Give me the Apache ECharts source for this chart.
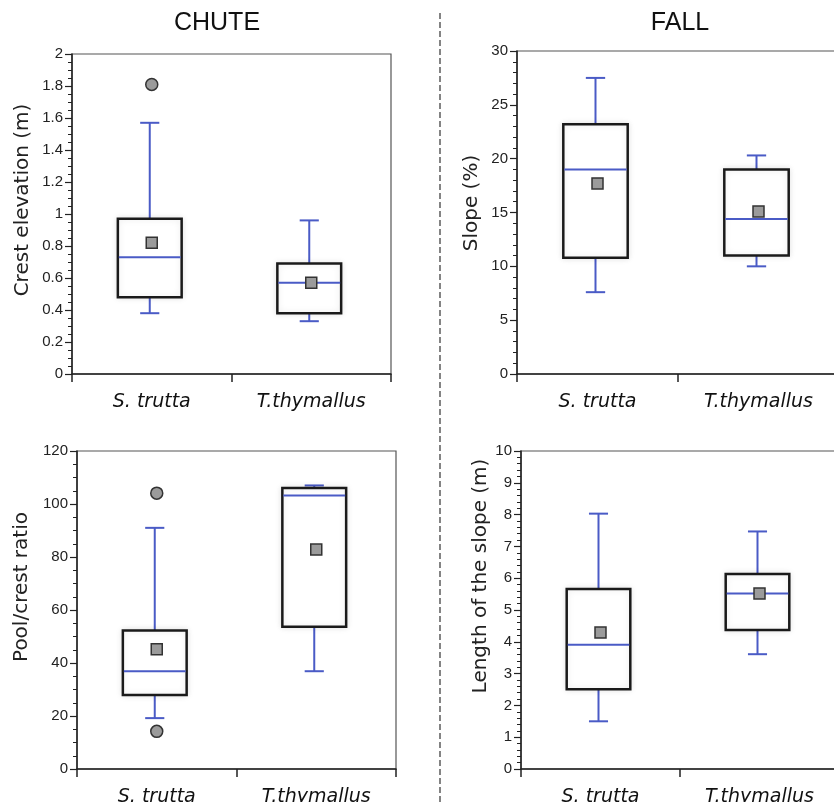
<!DOCTYPE html>
<html>
<head>
<meta charset="utf-8">
<script src="https://cdn.jsdelivr.net/npm/echarts@6/dist/echarts.min.js"></script>
<style>
html,body{margin:0;padding:0;background:#fff;}
#chart{width:834px;height:802px;}
</style>
</head>
<body>
<div id="chart"></div>
<script>
// ---- Data ----
var categories = ['S. trutta', 'T.thymallus'];

// [low whisker, Q1, median, Q3, high whisker]
var crestBox = [[0.38, 0.48, 0.73, 0.97, 1.57], [0.33, 0.38, 0.57, 0.69, 0.96]];
var crestMean = [0.82, 0.57];
var crestOutliers = [[0, 1.81]];

var slopeBox = [[7.6, 10.8, 19.0, 23.2, 27.5], [10.0, 11.0, 14.4, 19.0, 20.3]];
var slopeMean = [17.7, 15.1];
var slopeOutliers = [];

var poolBox = [[19.2, 27.9, 36.9, 52.3, 91.0], [36.9, 53.7, 103.2, 106.0, 107.0]];
var poolMean = [45.2, 82.8];
var poolOutliers = [[0, 104.1], [0, 14.2]];

var lengthBox = [[1.5, 2.51, 3.91, 5.66, 8.03], [3.61, 4.37, 5.52, 6.13, 7.47]];
var lengthMean = [4.29, 5.52];
var lengthOutliers = [];

var panelTitles = ['CHUTE', 'FALL'];
var yNames = ['Crest elevation (m)', 'Slope (%)', 'Pool/crest ratio', 'Length of the slope (m)'];
var yRanges = [[0, 2, 0.2, 4], [0, 30, 5, 5], [0, 120, 20, 4], [0, 10, 1, 5]];

// ---- Styling / layout ----
var BLUE = '#4a5bc6';
var grids = [
  {left: 72, top: 54, width: 319, height: 320},
  {left: 517, top: 51, width: 322, height: 323},
  {left: 77, top: 451, width: 319, height: 318},
  {left: 521, top: 451, width: 318, height: 318}
];
var namePos = [[23, 200], [472, 203], [22, 587], [481, 576]];

function renderBox(params, api) {
  var xi = api.value(0);
  var low = api.value(1), q1 = api.value(2), med = api.value(3), q3 = api.value(4), high = api.value(5);
  var cw = api.size([1, 0])[0];
  var cx = api.coord([xi, med])[0] - 2;
  function Y(v) { return api.coord([xi, v])[1]; }
  var bw = cw * 0.4, capw = cw * 0.12;
  var blue = {stroke: BLUE, lineWidth: 2, fill: null};
  return {
    type: 'group',
    children: [
      {type: 'line', shape: {x1: cx, y1: Y(low), x2: cx, y2: Y(q1)}, style: blue},
      {type: 'line', shape: {x1: cx, y1: Y(q3), x2: cx, y2: Y(high)}, style: blue},
      {type: 'line', shape: {x1: cx - capw / 2, y1: Y(low), x2: cx + capw / 2, y2: Y(low)}, style: blue},
      {type: 'line', shape: {x1: cx - capw / 2, y1: Y(high), x2: cx + capw / 2, y2: Y(high)}, style: blue},
      {type: 'rect', shape: {x: cx - bw / 2, y: Y(q3), width: bw, height: Y(q1) - Y(q3)},
        style: {fill: '#fff', stroke: '#1a1a1a', lineWidth: 2.5, shadowBlur: 6, shadowColor: 'rgba(0,0,0,0.10)'}},
      {type: 'line', shape: {x1: cx - bw / 2 + 1, y1: Y(med), x2: cx + bw / 2 - 1, y2: Y(med)}, style: blue}
    ]
  };
}

var boxes = [crestBox, slopeBox, poolBox, lengthBox];
var means = [crestMean, slopeMean, poolMean, lengthMean];
var outliers = [crestOutliers, slopeOutliers, poolOutliers, lengthOutliers];

var xAxes = [], yAxes = [], series = [], gridOpts = [];
for (var g = 0; g < 4; g++) {
  gridOpts.push(Object.assign({show: true, borderColor: '#555', borderWidth: 1.2, backgroundColor: 'transparent',
    containLabel: false, outerBoundsMode: 'none'}, grids[g]));
  xAxes.push({
    type: 'category', gridIndex: g, data: categories, boundaryGap: true,
    axisLine: {lineStyle: {color: '#222', width: 1.5}},
    axisTick: {show: true, length: 8, alignWithLabel: false, lineStyle: {color: '#222', width: 1.5}},
    axisLabel: {fontFamily: 'DejaVu Sans', fontStyle: 'italic', fontSize: 19, color: '#111', margin: 19},
    splitLine: {show: false}
  });
  var r = yRanges[g];
  yAxes.push({
    type: 'value', gridIndex: g, min: r[0], max: r[1], interval: r[2],
    axisLine: {show: true, lineStyle: {color: '#222', width: 1.5}},
    axisTick: {show: true, length: 7, lineStyle: {color: '#222', width: 1.2}},
    minorTick: {show: true, splitNumber: r[3], length: 4, lineStyle: {color: '#222', width: 1}},
    axisLabel: {fontFamily: 'Liberation Sans', fontSize: 15, color: '#222', margin: 9},
    splitLine: {show: false}, minorSplitLine: {show: false}
  });
  series.push({
    type: 'custom', xAxisIndex: g, yAxisIndex: g, renderItem: renderBox,
    encode: {x: 0, y: [1, 2, 3, 4, 5]},
    data: boxes[g].map(function (b, i) { return [i].concat(b); }),
    z: 2
  });
  series.push({
    type: 'scatter', xAxisIndex: g, yAxisIndex: g, symbol: 'rect', symbolSize: 11,
    itemStyle: {color: '#9b9b9b', borderColor: '#333', borderWidth: 1.5, opacity: 1},
    data: means[g].map(function (m, i) { return [i, m]; }), z: 5
  });
  series.push({
    type: 'scatter', xAxisIndex: g, yAxisIndex: g, symbol: 'circle', symbolSize: 12,
    itemStyle: {color: '#9b9b9b', borderColor: '#333', borderWidth: 1.5, opacity: 1},
    data: outliers[g], z: 5
  });
}

var graphics = [
  {type: 'line', shape: {x1: 440, y1: 13, x2: 440, y2: 802}, style: {stroke: '#333', lineWidth: 1.2, lineDash: [6, 3]}},
  {type: 'text', x: 217, y: 23, style: {text: panelTitles[0], font: '25px "Liberation Sans"', fill: '#111', textAlign: 'center', textVerticalAlign: 'middle', align: 'center', verticalAlign: 'middle'}},
  {type: 'text', x: 680, y: 23, style: {text: panelTitles[1], font: '25px "Liberation Sans"', fill: '#111', textAlign: 'center', textVerticalAlign: 'middle', align: 'center', verticalAlign: 'middle'}}
];
for (var k = 0; k < 4; k++) {
  graphics.push({type: 'text', x: namePos[k][0], y: namePos[k][1], rotation: Math.PI / 2,
    style: {text: yNames[k], font: '20px "DejaVu Sans"', fill: '#222', textAlign: 'center', textVerticalAlign: 'middle', align: 'center', verticalAlign: 'middle'}});
}

var chart = echarts.init(document.getElementById('chart'), null, {renderer: 'canvas'});
chart.setOption({
  animation: false,
  backgroundColor: '#fff',
  grid: gridOpts,
  xAxis: xAxes,
  yAxis: yAxes,
  series: series,
  graphic: graphics
});
</script>
</body>
</html>
